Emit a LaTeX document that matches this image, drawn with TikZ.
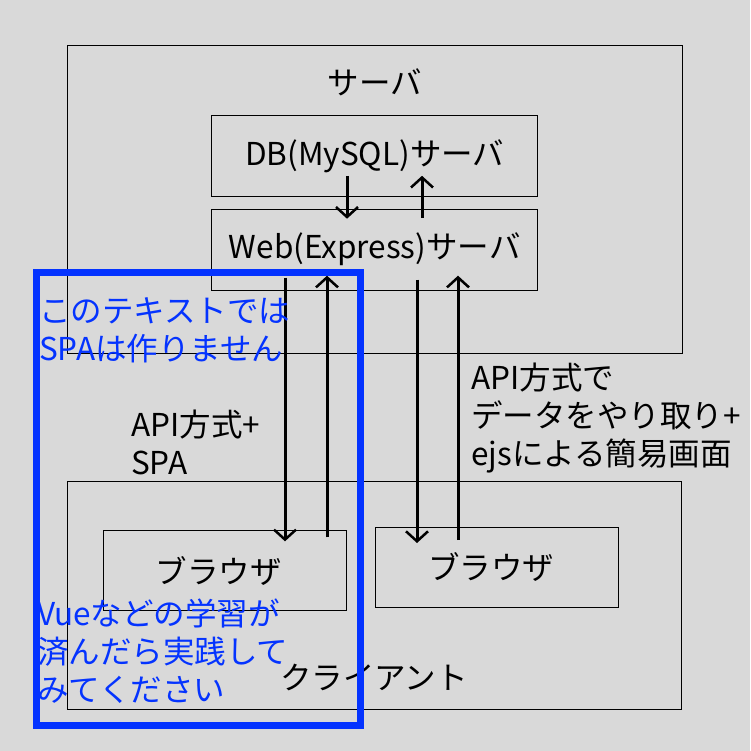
\documentclass[tikz,border=0pt]{standalone}
\usepackage{fontspec}
\setmainfont{Noto Sans CJK JP}
\usetikzlibrary{arrows.meta}
\definecolor{bg}{RGB}{217,217,217}
\definecolor{myblue}{RGB}{4,51,255}
\begin{document}
\begin{tikzpicture}[x=1pt,y=-1pt,
  box/.style={draw=black, line width=1pt, inner sep=0pt, font=\fontsize{31.5}{38}\selectfont},
  arr/.style={line width=3pt, -{Straight Barb[length=10pt,width=22pt,line width=2.5pt]}},
  lbl/.style={font=\fontsize{31.5}{38}\selectfont, inner sep=0pt, align=left},
  note/.style={lbl, text=myblue},
  bluebox/.style={draw=myblue, line width=7pt, inner sep=0pt}]
\fill[bg] (0,0) rectangle (750,751);
\useasboundingbox (0,0) rectangle (750,751);
% boxes
\node[box, minimum width=615pt, minimum height=307pt] (server) at (374.5,199.5) {};
\node[lbl, anchor=center] (servert) at (375,82) {サーバ};
\node[box, minimum width=326pt, minimum height=81pt] (db) at (374.7,155.8) {DB(MySQL)サーバ};
\node[box, minimum width=326pt, minimum height=81pt] (web) at (374.7,249.7) {Web(Express)サーバ};
\node[box, minimum width=614pt, minimum height=228pt] (client) at (374.8,595.8) {};
\node[lbl, anchor=center] (clientt) at (374,677) {クライアント};
\node[box, minimum width=243pt, minimum height=80pt] (b1) at (224.7,570.8) {};
\node[lbl, anchor=center] (b1t) at (b1.center) [xshift=-6pt] {ブラウザ};
\node[box, minimum width=243pt, minimum height=80pt] (b2) at (497,567.5) {};
\node[lbl, anchor=center] (b2t) at (b2.center) [xshift=-6pt] {ブラウザ};
% arrow x positions
\coordinate (xa) at (347,0);
\coordinate (xb) at (422,0);
\coordinate (xc) at (285,0);
\coordinate (xd) at (327,0);
\coordinate (xe) at (417,0);
\coordinate (xf) at (458,0);
\draw[arr] ([yshift=21pt]db.south -| xa) -- ([yshift=-10pt]web.north -| xa);
\draw[arr] ([yshift=-9pt]web.north -| xb) -- ([yshift=21pt]db.south -| xb);
\draw[arr] ([yshift=13pt]web.south -| xc) -- ([yshift=-11pt]b1.north -| xc);
\draw[arr] ([yshift=-7pt]b1.north -| xd) -- ([yshift=15pt]web.south -| xd);
\draw[arr] ([yshift=11pt]web.south -| xe) -- ([yshift=-16pt]b2.north -| xe);
\draw[arr] ([yshift=-13pt]b2.north -| xf) -- ([yshift=15pt]web.south -| xf);
% labels
\node[lbl, anchor=west] (lspa) at (131,442) {API方式+\\SPA};
\node[lbl, anchor=west] (lejs) at (471,418) {API方式で\\データをやり取り+\\ejsによる簡易画面};
% blue note
\node[bluebox, minimum width=324pt, minimum height=453pt] (blue) at (198,499.3) {};
\node[note, anchor=west] (n1) at (39,330) {このテキストでは\\SPAは作りません};
\node[note, anchor=west] (n2) at (37,651.5) {Vueなどの学習が\\済んだら実践して\\みてください};
\end{tikzpicture}
\end{document}
